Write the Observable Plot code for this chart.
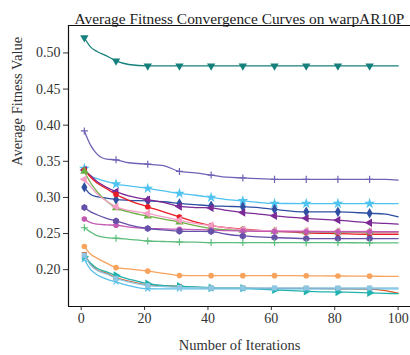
<!DOCTYPE html>
<html>
<head>
<meta charset="utf-8">
<script src="https://cdn.jsdelivr.net/npm/d3@7"></script>
<script src="https://cdn.jsdelivr.net/npm/@observablehq/plot@0.6"></script>
<style>
  html, body { margin: 0; padding: 0; background: #fff; }
</style>
</head>
<body>
<div id="chart"></div>
<script>
const title = "Average Fitness Convergence Curves on warpAR10P";
const xLabel = "Number of Iterations";
const yLabel = "Average Fitness Value";
const xTicks = [0, 20, 40, 60, 80, 100];
const yTicks = [0.20, 0.25, 0.30, 0.35, 0.40, 0.45, 0.50];

const iterations = [1, 3, 5, 8, 11, 15, 21, 26, 31, 36, 41, 46, 51, 56, 61, 71, 81, 91, 96, 100];
const markerIterations = [1, 11, 21, 31, 41, 51, 61, 71, 81, 91];

const seriesNames = ["S1","S2","S3","S4","S5","S6","S7","S8","S9","S10","S11","S12","S13","S14","S15","S16"];
const seriesColors = ["#16807c","#6f63b6","#4ec3ef","#2f4fa3","#7b2a96","#e81c24","#6cb044","#f59dc4","#c25ab4","#6650a9","#5cbd7d","#f7a35c","#e05a2a","#21b3ab","#58bfea","#8fc6e2"];
const seriesSymbols = ["triangle","plus","star","diamond","triangle","circle","triangle","triangle","circle","hexagon","plus","circle","square","triangle","times","square"];
const seriesRotate = [180, 0, 0, 0, -90, 0, 0, -90, 0, 0, 0, 0, 0, 90, 0, 0];

const s1  = [0.521,0.508,0.502,0.496,0.489,0.484,0.482,0.482,0.482,0.482,0.482,0.482,0.482,0.482,0.482,0.482,0.482,0.482,0.482,0.482];
const s2  = [0.392,0.372,0.360,0.353,0.352,0.348,0.346,0.344,0.336,0.334,0.331,0.328,0.327,0.326,0.325,0.325,0.325,0.325,0.325,0.324];
const s3  = [0.340,0.330,0.326,0.322,0.3185,0.316,0.3125,0.309,0.3055,0.303,0.300,0.297,0.2953,0.293,0.2917,0.2915,0.2915,0.2915,0.2915,0.2915];
const s4  = [0.314,0.304,0.301,0.299,0.297,0.296,0.2953,0.294,0.2917,0.290,0.2884,0.2877,0.287,0.286,0.2835,0.280,0.280,0.278,0.277,0.273];
const s5  = [0.338,0.330,0.322,0.314,0.308,0.302,0.297,0.293,0.2875,0.286,0.2855,0.282,0.279,0.277,0.2745,0.271,0.2685,0.265,0.264,0.263];
const s6  = [0.338,0.328,0.320,0.312,0.304,0.296,0.287,0.280,0.273,0.266,0.261,0.258,0.256,0.2545,0.2535,0.251,0.250,0.249,0.249,0.249];
const s7  = [0.336,0.320,0.308,0.295,0.2856,0.280,0.274,0.270,0.266,0.261,0.257,0.255,0.2546,0.2535,0.253,0.2525,0.252,0.252,0.252,0.252];
const s8  = [0.325,0.315,0.305,0.295,0.287,0.282,0.2778,0.273,0.2685,0.264,0.261,0.258,0.2555,0.2545,0.254,0.2535,0.253,0.253,0.2525,0.2525];
const s9  = [0.270,0.265,0.263,0.262,0.2615,0.259,0.257,0.2565,0.256,0.2555,0.255,0.254,0.2535,0.253,0.2528,0.2525,0.2525,0.2525,0.2525,0.2525];
const s10 = [0.286,0.280,0.276,0.271,0.2675,0.262,0.257,0.255,0.2532,0.253,0.2528,0.249,0.2467,0.2455,0.2444,0.243,0.243,0.243,0.243,0.243];
const s11 = [0.258,0.252,0.247,0.2444,0.2435,0.242,0.2397,0.239,0.2383,0.238,0.2375,0.2375,0.2375,0.2375,0.2375,0.2374,0.2373,0.2372,0.2372,0.2372];
const s12 = [0.232,0.2213,0.216,0.209,0.2028,0.201,0.198,0.195,0.192,0.1918,0.1917,0.1917,0.1917,0.1917,0.1917,0.1915,0.1912,0.191,0.1908,0.1907];
const s13 = [0.221,0.208,0.200,0.195,0.189,0.184,0.179,0.178,0.1768,0.1755,0.1745,0.1745,0.1745,0.174,0.174,0.174,0.1735,0.173,0.171,0.1675];
const s14 = [0.218,0.209,0.202,0.197,0.192,0.187,0.1805,0.178,0.177,0.176,0.175,0.1748,0.1745,0.173,0.172,0.170,0.169,0.168,0.1672,0.1667];
const s15 = [0.214,0.200,0.193,0.187,0.183,0.178,0.1736,0.1735,0.1735,0.1735,0.1735,0.1735,0.1735,0.1735,0.1735,0.1735,0.1735,0.1735,0.1735,0.1735];
const s16 = [0.220,0.206,0.199,0.194,0.188,0.183,0.178,0.1765,0.1755,0.175,0.1748,0.1748,0.1748,0.1748,0.1748,0.1748,0.1748,0.1748,0.1748,0.1748];

const seriesValues = [s1,s2,s3,s4,s5,s6,s7,s8,s9,s10,s11,s12,s13,s14,s15,s16];

const strokeSymbols = new Set(["plus","times","asterisk","cross"]);
const symbolR = {triangle: 3.1, plus: 2.4, star: 3.4, diamond: 3.2, circle: 2.8, hexagon: 3.0, square: 2.8, times: 2.4};
const FONT = "'Liberation Serif', 'DejaVu Serif', serif";

const marks = [];
seriesValues.forEach((vals, i) => {
  const rows = iterations.map((it, j) => ({series: seriesNames[i], iter: it, value: vals[j]}));
  const mrows = rows.filter(r => markerIterations.includes(r.iter));
  marks.push(Plot.line(rows, {x: "iter", y: "value", stroke: seriesColors[i], strokeWidth: 1.3, curve: "monotone-x"}));
  const sym = seriesSymbols[i];
  const dotOpts = {x: "iter", y: "value", symbol: sym, r: symbolR[sym], rotate: seriesRotate[i]};
  if (strokeSymbols.has(sym)) { dotOpts.stroke = seriesColors[i]; dotOpts.strokeWidth = 1.2; }
  else { dotOpts.fill = seriesColors[i]; }
  marks.push(Plot.dot(mrows, dotOpts));
});

const chart = Plot.plot({
  width: 410,
  height: 355,
  marginLeft: 68,
  marginRight: 0,
  marginTop: 25,
  marginBottom: 49,
  style: {fontFamily: FONT, fontSize: "13px", color: "#333", background: "#fff"},
  x: {domain: [-4, 103.9]},
  y: {domain: [0.149, 0.538]},
  marks: [
    Plot.axisX(xTicks, {tickSize: 4, tickFormat: () => "", label: null}),
    Plot.axisY(yTicks, {tickSize: 5, tickFormat: () => "", label: null}),
    Plot.text(xTicks, {x: d => d, frameAnchor: "bottom", dy: 16, text: d => String(d), fontSize: 14, fontFamily: FONT, fill: "#333"}),
    Plot.text(yTicks, {y: d => d, frameAnchor: "left", dx: -8, textAnchor: "end", text: d => d.toFixed(2), fontSize: 14, fontFamily: FONT, fill: "#333"}),
    ...marks,
    Plot.ruleX([-4], {stroke: "#111", strokeWidth: 1.2}),
    Plot.ruleY([0.149, 0.538], {stroke: "#111", strokeWidth: 1.2}),
    Plot.text([title], {frameAnchor: "top", dy: -12, fontSize: 15.4, fontFamily: FONT, fill: "#222"}),
    Plot.text([xLabel], {frameAnchor: "bottom", dy: 43, fontSize: 14.5, fontFamily: FONT, fill: "#333"}),
    Plot.text([yLabel], {frameAnchor: "left", dx: -51, rotate: -90, fontSize: 14.5, fontFamily: FONT, fill: "#333"})
  ]
});
document.getElementById("chart").appendChild(chart);
</script>
</body>
</html>
